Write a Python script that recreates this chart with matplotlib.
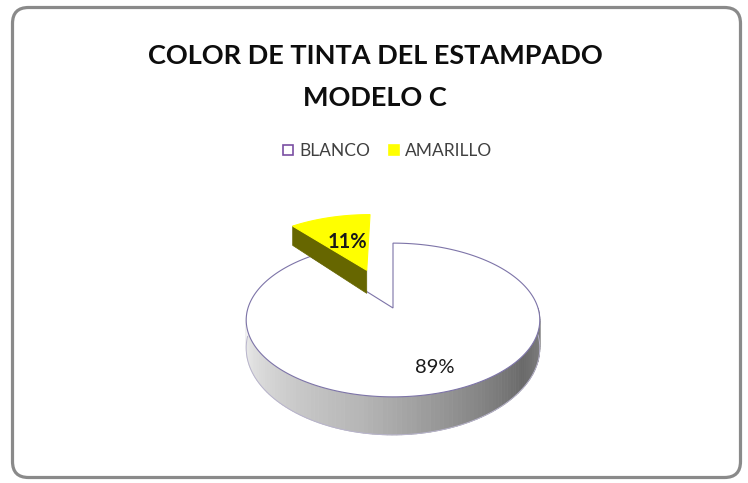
import matplotlib
matplotlib.use('Agg')
import matplotlib.pyplot as plt
import numpy as np
from matplotlib.patches import FancyBboxPatch, Polygon, Rectangle
from matplotlib.collections import PolyCollection
from matplotlib.colors import LinearSegmentedColormap

plt.rcParams['font.family'] = ['Lato', 'DejaVu Sans']

# data
categories = ['BLANCO', 'AMARILLO']
shares = [89, 11]
top_colors = ['#ffffff', '#ffff00']
wall_colors = ['#d9d9d9', '#666600']
legend_edges = ['#7a4fa3', '#ffff00']
explode = [0.0, 0.58]
label_radius = [0.75, 0.5]
label_weight = ['normal', 'bold']

# pie geometry (pixels)
cx, cy = 393, 308
rx, ry = 145, 75
depth = 26.8
persp = 0.156      # foreshortening of the top face
persp_h = 0.295    # foreshortening of the wall height


def project(u, v, h=0.0):
    u = np.asarray(u, float)
    v = np.asarray(v, float)
    x = cx + rx * u / (1 + persp * v)
    y = cy - ry * v / (1 + persp * v) + depth * h / (1 + persp_h * v)
    return x, y


fig = plt.figure(figsize=(7.48, 4.83), dpi=100)
ax = fig.add_axes([0, 0, 1, 1])
ax.set_xlim(0, 748)
ax.set_ylim(483, 0)
ax.axis('off')

frame = FancyBboxPatch((12.5, 7.5), 728, 470,
                       boxstyle='round,pad=0,rounding_size=16',
                       fc='white', ec='#8a8a8a', lw=2.3, zorder=0)
ax.add_patch(frame)

ax.text(375, 56, 'COLOR DE TINTA DEL ESTAMPADO', ha='center', va='center',
        fontsize=19.5, fontweight='bold', color='#0d0d0d')
ax.text(375, 98, 'MODELO C', ha='center', va='center',
        fontsize=19.5, fontweight='bold', color='#0d0d0d')

# legend
leg_x = [283, 389]
for cat, fc, ec, lx in zip(categories, top_colors, legend_edges, leg_x):
    ax.add_patch(Rectangle((lx, 145), 10, 10, fc=fc, ec=ec, lw=1.2, zorder=3))
    ax.text(lx + 16, 150.5, cat, ha='left', va='center', fontsize=12.5,
            color='#404040')

side_cmap = LinearSegmentedColormap.from_list(
    'side', [(0, '#f4f4f4'), (0.45, '#b4b4b4'), (0.8, '#6a6a6a'), (1, '#8c8c8c')])

# slice angles, clockwise from 12 o'clock
total = float(sum(shares))
starts = 90 - 360 * np.concatenate([[0], np.cumsum(shares)[:-1]]) / total
ends = starts - 360 * np.array(shares) / total

for i in range(len(shares)):
    a0, a1 = np.radians(starts[i]), np.radians(ends[i])
    mid = (a0 + a1) / 2
    ou, ov = explode[i] * np.cos(mid), explode[i] * np.sin(mid)
    th = np.linspace(a0, a1, 200)
    ru, rv = ou + np.cos(th), ov + np.sin(th)

    # outer wall, front half only, shaded by angle
    front = np.sin(th) < 0
    if front.any():
        tf = th[front]
        quads, cols = [], []
        for k in range(len(tf) - 1):
            t0, t1 = tf[k], tf[k + 1]
            pts = []
            for t, h in [(t0, 0), (t1, 0), (t1, 1), (t0, 1)]:
                px, py = project(ou + np.cos(t), ov + np.sin(t), h)
                pts.append((float(px), float(py)))
            quads.append(pts)
            frac = ((np.degrees((t0 + t1) / 2) % 360) - 180) / 180
            cols.append(side_cmap(frac))
        ax.add_collection(PolyCollection(quads, facecolors=cols,
                                         edgecolors=cols, lw=0.6, zorder=2 + i))
        bx, by = project(ou + np.cos(tf), ov + np.sin(tf), 1)
        ax.plot(bx, by, color='#b8b4cc', lw=0.7, zorder=2 + i)

    # radial wall at the start edge, seen from the front-left
    if explode[i] > 0:
        ex, ey = np.cos(a0), np.sin(a0)
        wall = [project(ou, ov, 0), project(ou + ex, ov + ey, 0),
                project(ou + ex, ov + ey, 1), project(ou, ov, 1)]
        ax.add_patch(Polygon([(float(a), float(b)) for a, b in wall],
                             closed=True, fc=wall_colors[i], ec=wall_colors[i],
                             lw=0.5, zorder=2 + i))

    # top face
    tx, ty = project(np.concatenate([[ou], ru]), np.concatenate([[ov], rv]), 0)
    ax.add_patch(Polygon(np.column_stack([tx, ty]), closed=True,
                         fc=top_colors[i],
                         ec='#7d74a8' if i == 0 else top_colors[i],
                         lw=0.8, zorder=2 + i))

    lx, ly = project(ou + label_radius[i] * np.cos(mid),
                     ov + label_radius[i] * np.sin(mid), 0)
    ax.text(float(lx), float(ly), f'{shares[i]}%', ha='center', va='center',
            fontsize=14.5, fontweight=label_weight[i], color='#1a1a1a', zorder=5)

fig.savefig('out.png', dpi=100)
